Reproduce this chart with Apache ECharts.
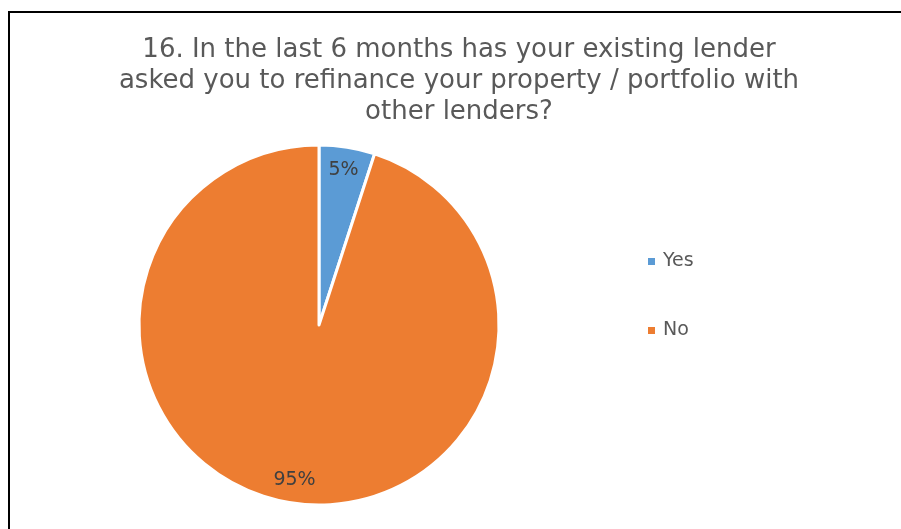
<!DOCTYPE html>
<html>
<head>
<meta charset="utf-8">
<style>
  html, body { margin: 0; padding: 0; background: #fff; }
  #chart { width: 901px; height: 529px; }
</style>
<script src="https://cdn.jsdelivr.net/npm/echarts@6/dist/echarts.min.js"></script>
</head>
<body>
<div id="chart"></div>
<script>
// Survey answers and their shares (%)
const categories = ['Yes', 'No'];
const shares = [5, 95];
const colors = ['#5B9BD5', '#ED7D31'];
const titleText = '16. In the last 6 months has your existing lender\nasked you to refinance your property / portfolio with\nother lenders?';

const font = 'DejaVu Sans';
const pieData = categories.map((name, i) => ({ name, value: shares[i] }));

const chart = echarts.init(document.getElementById('chart'), null, { renderer: 'canvas' });
chart.setOption({
  animation: false,
  color: colors,
  title: {
    text: titleText,
    left: 454,
    top: 30,
    textAlign: 'center',
    textStyle: {
      fontFamily: font,
      fontSize: 26,
      fontWeight: 'normal',
      color: '#595959',
      lineHeight: 31
    }
  },
  legend: {
    data: categories,
    orient: 'vertical',
    left: 641,
    top: 247,
    itemWidth: 9,
    itemHeight: 9,
    itemGap: 50,
    icon: 'rect',
    textStyle: { fontFamily: font, fontSize: 19, color: '#595959', padding: [0, 0, 0, 2] }
  },
  graphic: [{
    type: 'rect',
    shape: { x: 9, y: 12, width: 1000, height: 1000 },
    style: { fill: 'none', stroke: '#000', lineWidth: 2 },
    silent: true
  }],
  series: [
    {
      type: 'pie',
      center: [319, 325],
      radius: [0, 180],
      startAngle: 90,
      clockwise: true,
      data: pieData,
      label: { show: false },
      labelLine: { show: false },
      itemStyle: { borderColor: '#fff', borderWidth: 3 },
      emphasis: { disabled: true }
    },
    {
      // transparent ring that only carries the percentage labels near the rim
      type: 'pie',
      center: [319, 325],
      radius: [127, 180],
      startAngle: 90,
      clockwise: true,
      silent: true,
      data: pieData,
      itemStyle: { color: 'rgba(0,0,0,0)', borderWidth: 0 },
      label: {
        show: true,
        position: 'inside',
        formatter: p => p.value + '%',
        fontFamily: font,
        fontSize: 19,
        color: '#404040'
      },
      labelLine: { show: false },
      emphasis: { disabled: true }
    }
  ]
});
</script>
</body>
</html>
